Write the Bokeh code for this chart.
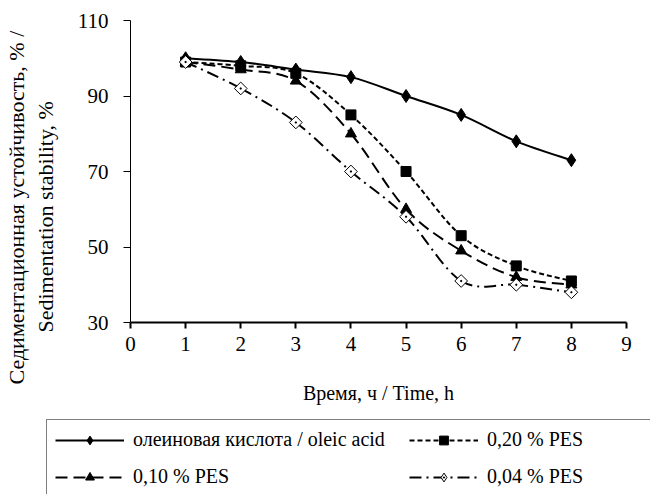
from bokeh.plotting import figure
from bokeh.models import Range1d, FixedTicker, Legend, LegendItem, Title
from bokeh.embed import file_html
from bokeh.resources import INLINE

hours = [1, 2, 3, 4, 5, 6, 7, 8]
oleic = [100, 99, 97, 95, 90, 85, 78, 73]
pes_020 = [99, 98, 96, 85, 70, 53, 45, 41]
pes_010 = [99, 97, 94, 80, 60, 49, 42, 40]
pes_004 = [99, 92, 83, 70, 58, 41, 40, 38]
x_ticks = [0, 1, 2, 3, 4, 5, 6, 7, 8, 9]
y_ticks = [30, 50, 70, 90, 110]
series_labels = ["олеиновая кислота / oleic acid", "0,20 % PES", "0,10 % PES", "0,04 % PES"]
x_label = "Время, ч / Time, h"
y_label_1 = "Седиментационная устойчивость, % /"
y_label_2 = "Sedimentation stability, %"

FONT = "Liberation Serif"


def smooth_segments(xs, ys, k=1.0 / 6.0):
    n = len(xs)
    d = dict(x0=[], y0=[], x1=[], y1=[], cx0=[], cy0=[], cx1=[], cy1=[])
    for i in range(n - 1):
        im = max(i - 1, 0)
        ip2 = min(i + 2, n - 1)
        d["x0"].append(xs[i]); d["y0"].append(ys[i])
        d["x1"].append(xs[i + 1]); d["y1"].append(ys[i + 1])
        d["cx0"].append(xs[i] + (xs[i + 1] - xs[im]) * k)
        d["cy0"].append(ys[i] + (ys[i + 1] - ys[im]) * k)
        d["cx1"].append(xs[i + 1] - (xs[ip2] - xs[i]) * k)
        d["cy1"].append(ys[i + 1] - (ys[ip2] - ys[i]) * k)
    return d


W = 650
H1 = 414
H2 = 80

p = figure(width=W, height=H1, output_backend="svg", toolbar_location=None,
           x_range=Range1d(0, 9), y_range=Range1d(30, 110),
           min_border_left=128, min_border_right=24, min_border_top=20, min_border_bottom=H1 - 322)
p.outline_line_color = None
p.grid.visible = False
p.background_fill_color = "white"
p.border_fill_color = "white"

for ax in (p.xaxis[0], p.yaxis[0]):
    ax.axis_line_color = "black"
    ax.major_tick_line_color = "black"
    ax.minor_tick_line_color = None
    ax.major_tick_in = 0
    ax.major_label_text_font = FONT
    ax.major_label_text_font_size = "21px"
    ax.major_label_text_color = "black"
    ax.axis_label_text_color = "black"

p.xaxis.ticker = FixedTicker(ticks=x_ticks)
p.yaxis.ticker = FixedTicker(ticks=y_ticks)
p.xaxis.axis_line_width = 2
p.xaxis.major_tick_line_width = 2
p.xaxis.major_tick_out = 6
p.yaxis.major_tick_out = 7
p.xaxis.major_label_standoff = 8
p.yaxis.major_label_standoff = 15
p.xaxis.axis_label = x_label
p.xaxis.axis_label_text_font = FONT
p.xaxis.axis_label_text_font_size = "20px"
p.xaxis.axis_label_text_font_style = "normal"
p.xaxis.axis_label_standoff = 28
# spacer so that the two-line y title sits where the reference has it
p.yaxis.axis_label = " "
p.yaxis.axis_label_text_font_size = "1px"
p.yaxis.axis_label_standoff = 12

t2 = Title(text=y_label_2, align="left", offset=-10, text_font=FONT, text_font_size="22px",
           text_font_style="normal", text_color="black", standoff=2)
t1 = Title(text=y_label_1, align="left", offset=-62, text_font=FONT, text_font_size="22px",
           text_font_style="normal", text_color="black", standoff=2)
p.add_layout(t2, "left")
p.add_layout(t1, "left")

styles = [
    dict(data=oleic, dash="solid", marker="diamond", legend_marker="diamond", size=13,
         fill="black", angle=0.0),
    dict(data=pes_020, dash="5 3", marker="square", legend_marker="square", size=10,
         fill="black", angle=0.0),
    dict(data=pes_010, dash="12 6", marker="triangle", legend_marker="triangle", size=11,
         fill="black", angle=0.0),
    dict(data=pes_004, dash="12 5 2 5", marker="square_dot", legend_marker="diamond_dot", size=9,
         fill="white", angle=0.785398),
]

# legend figure below the chart (its glyph renderers use the same data, out of its view)
p2 = figure(width=W, height=H2, output_backend="svg", toolbar_location=None,
            x_range=Range1d(100, 101), y_range=Range1d(1000, 1001),
            x_axis_type=None, y_axis_type=None, min_border=0)
p2.outline_line_color = None
p2.grid.visible = False
p2.background_fill_color = "white"
p2.border_fill_color = "white"

items = {}
for lab, st in zip(series_labels, styles):
    segs = smooth_segments(hours, st["data"])
    p.bezier(x0="x0", y0="y0", x1="x1", y1="y1", cx0="cx0", cy0="cy0", cx1="cx1", cy1="cy1",
             source=segs, line_color="black", line_width=2, line_dash=st["dash"])
    p.scatter(hours, st["data"], marker=st["marker"], size=st["size"], fill_color=st["fill"],
              line_color="black", line_width=1, angle=st["angle"])
    lr = p2.line(hours, st["data"], line_color="black", line_width=2, line_dash=st["dash"])
    sr = p2.scatter(hours, st["data"], marker=st["legend_marker"], size=st["size"],
                    fill_color=st["fill"], line_color="black", line_width=1)
    items[lab] = LegendItem(label=lab, renderers=[lr, sr])

# column-major fill: first column holds oleic and 0,10; second 0,20 and 0,04
order = [series_labels[0], series_labels[2], series_labels[1], series_labels[3]]
legend = Legend(items=[items[k] for k in order], ncols=2, location=(46, -3),
                label_text_font=FONT, label_text_font_size="20px", label_text_color="black",
                glyph_width=69, glyph_height=22, label_standoff=9, spacing=14, padding=8,
                label_width=262,
                border_line_color="black", border_line_width=1, background_fill_alpha=1.0,
                margin=0)
p2.add_layout(legend, "center")

open("out.html", "w").write(file_html([p, p2], INLINE))
